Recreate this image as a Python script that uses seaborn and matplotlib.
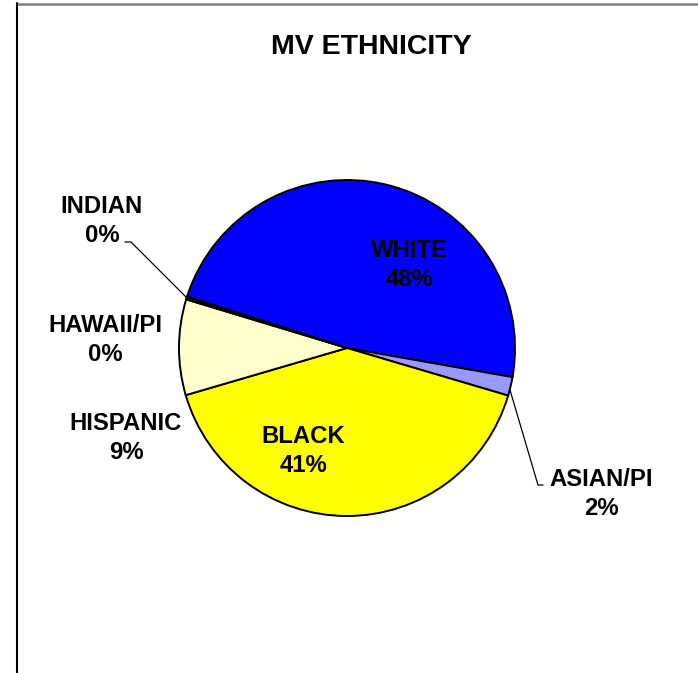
import matplotlib
matplotlib.use("Agg")
import matplotlib.pyplot as plt
import seaborn as sns
from matplotlib.lines import Line2D

sns.set_style("white")
plt.rcParams['font.family'] = ['Liberation Sans', 'DejaVu Sans']
plt.rcParams['text.color'] = 'black'

# data (percent of MV population)
groups = ['WHITE', 'ASIAN/PI', 'BLACK', 'HISPANIC', 'HAWAII/PI', 'INDIAN']
shares = [47.8, 1.8, 40.9, 9.2, 0.2, 0.1]
colors = ['#0000FF', '#9999FF', '#FFFF00', '#FFFFCC', '#CCFFFF', '#FFFFFF']

W, H = 698, 673
fig = plt.figure(figsize=(W / 100, H / 100), dpi=100)
ax = fig.add_axes([0, 0, 1, 1])


def iy(y):
    # picture rows -> data y
    return H - y


cx, cy, r = 347, 348, 168
ax.pie(shares, colors=colors, center=(cx, iy(cy)), radius=r,
       startangle=162.1, counterclock=False, frame=True,
       wedgeprops=dict(edgecolor='black', linewidth=1.4))
ax.set_xlim(0, W)
ax.set_ylim(0, H)
ax.set_aspect('auto')
ax.axis('off')

# label anchors (centre of the two-line block, picture pixels)
label_pos = {
    'WHITE': (409, 265),
    'ASIAN/PI': (601, 494),
    'BLACK': (303, 451),
    'HISPANIC': (126, 438),
    'HAWAII/PI': (105, 340),
    'INDIAN': (102, 221),
}
for g, s in zip(groups, shares):
    x, y = label_pos[g]
    ax.text(x, iy(y), f"{g}\n{round(s):.0f}%", ha='center', va='center',
            multialignment='center', fontsize=17.2, fontweight='bold',
            linespacing=1.3, color='black')

# leader lines
ax.plot([186, 131, 125], [iy(297), iy(242), iy(242)], color='black', lw=0.9)
ax.plot([510, 538, 543], [iy(390), iy(485), iy(485)], color='black', lw=0.9)

ax.text(371, iy(47), 'MV ETHNICITY', ha='center', va='center',
        fontsize=20.5, fontweight='bold', color='black')

# chart-area frame (cropped)
fig.add_artist(Line2D([17 / W, 1], [1 - 4 / H, 1 - 4 / H], color='#808080', lw=1.8))
fig.add_artist(Line2D([17 / W, 17 / W], [0, 1 - 3 / H], color='black', lw=1.5))

fig.savefig('out.png', dpi=100)
